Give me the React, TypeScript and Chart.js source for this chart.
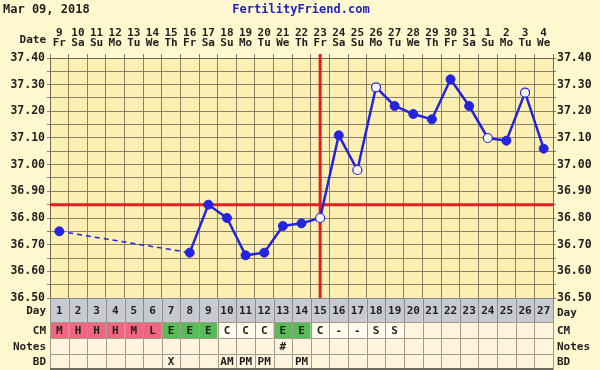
import React, { useEffect, useRef } from "react";
import { Chart, registerables } from "chart.js";

Chart.register(...registerables);

const chartDate = "Mar 09, 2018";
const siteName = "FertilityFriend.com";
const cycleDays = [1, 2, 3, 4, 5, 6, 7, 8, 9, 10, 11, 12, 13, 14, 15, 16, 17, 18, 19, 20, 21, 22, 23, 24, 25, 26, 27];
const dates = ["9", "10", "11", "12", "13", "14", "15", "16", "17", "18", "19", "20", "21", "22", "23", "24", "25", "26", "27", "28", "29", "30", "31", "1", "2", "3", "4"];
const weekdays = ["Fr", "Sa", "Su", "Mo", "Tu", "We", "Th", "Fr", "Sa", "Su", "Mo", "Tu", "We", "Th", "Fr", "Sa", "Su", "Mo", "Tu", "We", "Th", "Fr", "Sa", "Su", "Mo", "Tu", "We"];
const temps = [36.75, null, null, null, null, null, null, 36.67, 36.85, 36.80, 36.66, 36.67, 36.77, 36.78, 36.80, 37.11, 36.98, 37.29, 37.22, 37.19, 37.17, 37.32, 37.22, 37.10, 37.09, 37.27, 37.06];
const openDays = [15, 17, 18, 24, 26];
const coverline = 36.85;
const ovulationDay = 15;
const cmValues = ["M", "H", "H", "H", "M", "L", "E", "E", "E", "C", "C", "C", "E", "E", "C", "-", "-", "S", "S", "", "", "", "", "", "", "", ""];
const notesValues = ["", "", "", "", "", "", "", "", "", "", "", "", "#", "", "", "", "", "", "", "", "", "", "", "", "", "", ""];
const bdValues = ["", "", "", "", "", "", "X", "", "", "AM", "PM", "PM", "", "PM", "", "", "", "", "", "", "", "", "", "", "", "", ""];
const yMin = 36.5;
const yMax = 37.4;

const FONT = "'DejaVu Sans Mono', monospace";
const OUTER_BG = "#FFF7CE";
const PLOT_BG = "#FCEFB4";
const GRID = "#8A8266";
const TEXT = "#1E1E1E";
const BLUE = "#2424E0";
const RED = "#E41E1E";

const cmColor = (v: string) => {
  if (v === "M" || v === "H" || v === "L") return "#EE6682";
  if (v === "E") return "#58BC58";
  if (v === "C" || v === "-" || v === "S") return "#FFFBEE";
  return "#FFF4DE";
};

const overlayPlugin = {
  id: "ffOverlay",
  beforeDraw(chart: any) {
    const { ctx, chartArea } = chart;
    ctx.save();
    ctx.fillStyle = OUTER_BG;
    ctx.fillRect(0, 0, chart.width, chart.height);
    ctx.fillStyle = PLOT_BG;
    ctx.fillRect(chartArea.left, chartArea.top, chartArea.right - chartArea.left, chartArea.bottom - chartArea.top);
    ctx.restore();
  },
  beforeDatasetsDraw(chart: any) {
    const { ctx, chartArea, scales } = chart;
    const x = scales.x;
    const y = scales.y;
    ctx.save();
    ctx.strokeStyle = RED;
    ctx.lineWidth = 3;
    const cy = y.getPixelForValue(coverline);
    ctx.beginPath();
    ctx.moveTo(chartArea.left, cy);
    ctx.lineTo(chartArea.right, cy);
    ctx.stroke();
    const ox = x.getPixelForValue(ovulationDay - 1);
    ctx.beginPath();
    ctx.moveTo(ox, chartArea.top - 4);
    ctx.lineTo(ox, chartArea.bottom);
    ctx.stroke();
    ctx.restore();
  },
  afterDraw(chart: any) {
    const { ctx, chartArea, scales } = chart;
    const x = scales.x;
    const colW = (chartArea.right - chartArea.left) / cycleDays.length;
    ctx.save();
    // header
    ctx.font = `bold 12px ${FONT}`;
    ctx.textBaseline = "middle";
    ctx.fillStyle = TEXT;
    ctx.textAlign = "left";
    ctx.fillText(chartDate, 3, 10);
    ctx.fillStyle = "#2222C8";
    ctx.textAlign = "center";
    ctx.fillText(siteName, 301, 10);
    ctx.fillStyle = TEXT;
    ctx.textAlign = "right";
    ctx.font = `bold 11px ${FONT}`;
    ctx.fillText("Date", 46, 40);

    // table
    const rows = [
      { label: "Day", top: chartArea.bottom, h: 24 },
      { label: "CM", top: chartArea.bottom + 24, h: 16 },
      { label: "Notes", top: chartArea.bottom + 40, h: 16 },
      { label: "BD", top: chartArea.bottom + 56, h: 15 },
    ];
    rows.forEach((r, ri) => {
      cycleDays.forEach((d, i) => {
        const cx = x.getPixelForValue(i);
        const l = cx - colW / 2;
        let bg = "#FFF4DE";
        let txt = "";
        if (ri === 0) {
          bg = "#C8CAD2";
          txt = String(d);
        } else if (ri === 1) {
          bg = cmColor(cmValues[i]);
          txt = cmValues[i];
        } else if (ri === 2) {
          txt = notesValues[i];
        } else {
          txt = bdValues[i];
        }
        ctx.fillStyle = bg;
        ctx.fillRect(l, r.top, colW, r.h);
        ctx.strokeStyle = ri === 0 ? "#8A8A90" : "#A49C88";
        ctx.lineWidth = 1;
        ctx.strokeRect(Math.round(l) + 0.5, Math.round(r.top) + 0.5, Math.round(colW), r.h);
        if (txt) {
          ctx.fillStyle = TEXT;
          ctx.textAlign = "center";
          ctx.font = `bold 11px ${FONT}`;
          ctx.fillText(txt, cx, r.top + r.h / 2 + 1);
        }
      });
      ctx.fillStyle = TEXT;
      ctx.font = `bold 11px ${FONT}`;
      ctx.textAlign = "right";
      ctx.fillText(r.label, 46, r.top + r.h / 2 + 1);
      ctx.textAlign = "left";
      ctx.fillText(r.label, 557, r.top + r.h / 2 + (ri === 0 ? 3 : 1));
    });
    ctx.strokeStyle = "#6E6A5C";
    ctx.lineWidth = 2;
    ctx.beginPath();
    ctx.moveTo(chartArea.left, 369);
    ctx.lineTo(chartArea.right, 369);
    ctx.stroke();
    ctx.restore();
  },
};

export default function App() {
  const ref = useRef<HTMLCanvasElement | null>(null);
  useEffect(() => {
    document.body.style.margin = "0";
    if (!ref.current) return;
    const labels = dates.map((d, i) => [d, weekdays[i]]);
    const pointFill = cycleDays.map((d) => (openDays.includes(d) ? "#F6F4EE" : BLUE));
    const pointBorderW = cycleDays.map((d) => (openDays.includes(d) ? 1.2 : 1));
    const tickFont = { family: FONT, size: 11, weight: "bold" as const, lineHeight: "10px" };
    const yTicksCb = (v: any) => (Math.round(Number(v) * 100) % 10 === 0 ? Number(v).toFixed(2) : "");
    const gap = (c: any) => !!(c.p0.skip || c.p1.skip);
    const chart = new Chart(ref.current, {
      type: "line",
      data: {
        labels,
        datasets: [
          {
            data: temps,
            borderColor: BLUE,
            borderWidth: 2.5,
            spanGaps: true,
            pointRadius: 4.5,
            pointBackgroundColor: pointFill,
            pointBorderColor: BLUE,
            pointBorderWidth: pointBorderW,
            tension: 0,
            segment: {
              borderDash: (c: any) => (gap(c) ? [5, 4] : undefined),
              borderWidth: (c: any) => (gap(c) ? 1.5 : undefined),
            },
          },
        ],
      },
      options: {
        responsive: false,
        devicePixelRatio: 1,
        animation: false,
        layout: { padding: { top: 0, bottom: 72, left: 0, right: 0 } },
        plugins: { legend: { display: false }, tooltip: { enabled: false } },
        scales: {
          x: {
            type: "category",
            position: "top",
            offset: true,
            grid: { offset: true, color: GRID, lineWidth: 1, tickLength: 4 },
            border: { color: "#6E6650", width: 1 },
            ticks: { font: tickFont, color: TEXT, padding: 6, maxRotation: 0, autoSkip: false },
            afterFit: (s: any) => {
              s.height = 58;
            },
          },
          y: {
            type: "linear",
            position: "left",
            min: yMin,
            max: yMax,
            grid: { color: GRID, lineWidth: 1, tickLength: 3 },
            border: { color: "#6E6650", width: 1 },
            ticks: { stepSize: 0.05, callback: yTicksCb, font: { family: FONT, size: 11.5, weight: "bold" }, color: TEXT, padding: 2, autoSkip: false },
            afterFit: (s: any) => {
              s.width = 50;
            },
          },
          y2: {
            type: "linear",
            position: "right",
            min: yMin,
            max: yMax,
            grid: { drawOnChartArea: false, color: GRID, tickLength: 3 },
            border: { color: "#6E6650", width: 1 },
            ticks: { stepSize: 0.05, callback: yTicksCb, font: { family: FONT, size: 11.5, weight: "bold" }, color: TEXT, padding: 1, autoSkip: false },
            afterFit: (s: any) => {
              s.width = 47;
            },
          },
        },
      },
      plugins: [overlayPlugin],
    } as any);
    return () => chart.destroy();
  }, []);
  return (
    <div style={{ position: "absolute", left: 0, top: 0, width: 600, height: 370, background: OUTER_BG }}>
      <canvas ref={ref} width={600} height={370} />
    </div>
  );
}
